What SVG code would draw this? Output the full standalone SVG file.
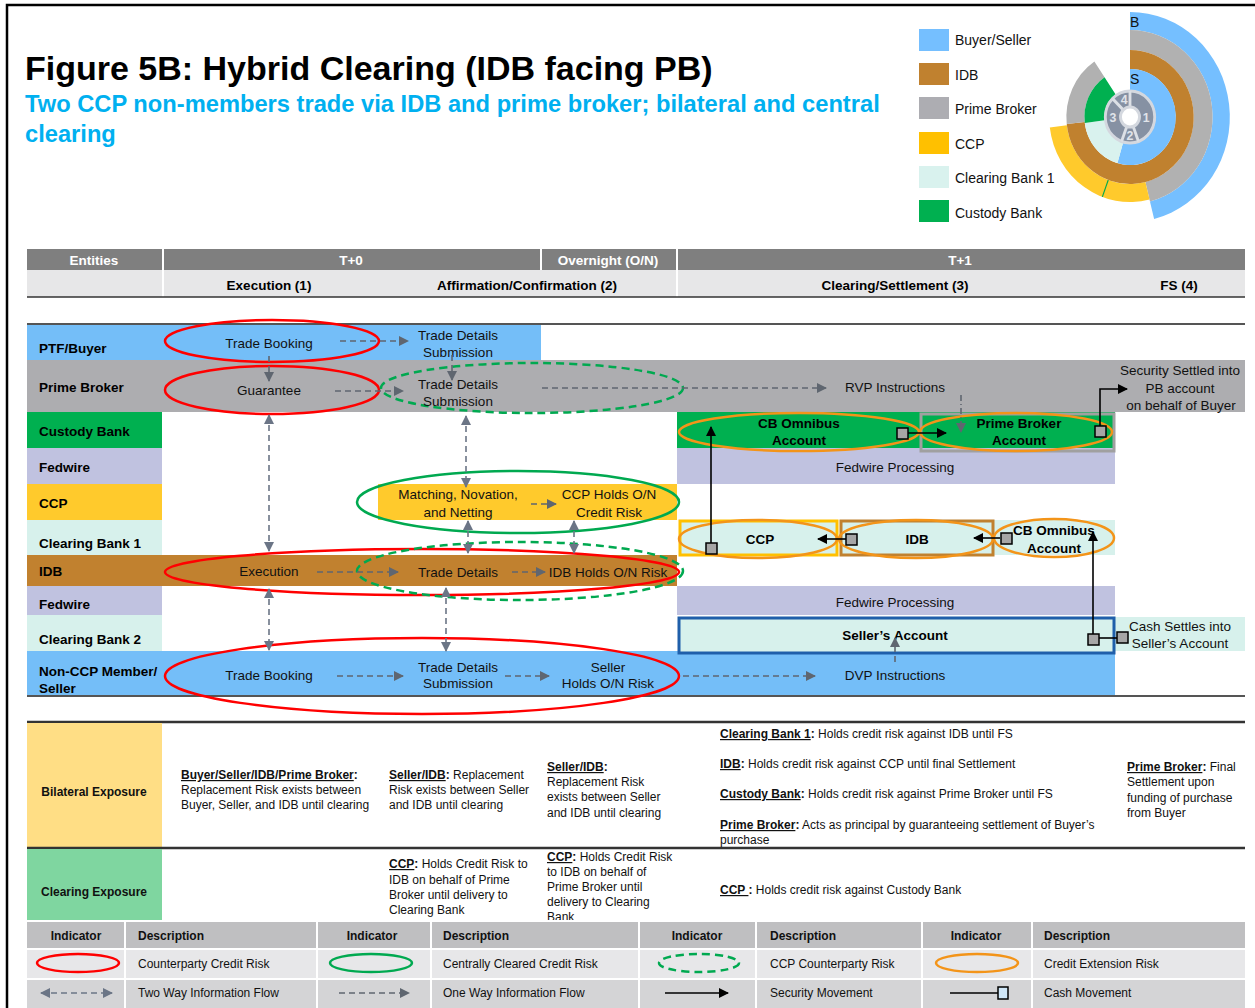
<svg xmlns="http://www.w3.org/2000/svg" width="1255" height="1008" viewBox="0 0 1255 1008">
<defs>
<style>
text{font-family:"Liberation Sans",Arial,sans-serif;fill:#111}
.lbl{font-weight:bold;font-size:13.5px;fill:#000}
.flow{font-size:13.5px;text-anchor:middle}
.fb{font-size:13.5px;text-anchor:middle;font-weight:bold;fill:#000}
.h1{font-weight:bold;font-size:13.5px;fill:#fff;text-anchor:middle}
.h2{font-weight:bold;font-size:13.5px;fill:#000;text-anchor:middle}
.sm{font-size:12px}
.smb{font-size:12px;font-weight:bold}
.u{font-weight:bold;text-decoration:underline}
.lg{font-size:14px}
.d1{stroke:#5F6670;stroke-width:1.6;stroke-dasharray:6,4;fill:none}
.d2{stroke:#6B7586;stroke-width:1.6;stroke-dasharray:6,4;fill:none}
.red{fill:none;stroke:#FF0000;stroke-width:2.5}
.gs{fill:none;stroke:#00A950;stroke-width:2.5}
.gd{fill:none;stroke:#00A950;stroke-width:2.5;stroke-dasharray:8,5}
.or{fill:none;stroke:#F39419;stroke-width:2.5}
.sec{stroke:#000;stroke-width:1.6;fill:none}
.sq{fill:#A6A6A6;stroke:#000;stroke-width:1.5}
</style>
<marker id="ag" viewBox="0 0 10 10" refX="9" refY="5" markerWidth="10" markerHeight="10" markerUnits="userSpaceOnUse" orient="auto-start-reverse"><path d="M0,0 L10,5 L0,10 z" fill="#5F6670"/></marker>
<marker id="as" viewBox="0 0 10 10" refX="9" refY="5" markerWidth="10" markerHeight="10" markerUnits="userSpaceOnUse" orient="auto-start-reverse"><path d="M0,0 L10,5 L0,10 z" fill="#6B7586"/></marker>
<marker id="ab" viewBox="0 0 10 10" refX="9" refY="5" markerWidth="10" markerHeight="10" markerUnits="userSpaceOnUse" orient="auto-start-reverse"><path d="M0,0 L10,5 L0,10 z" fill="#000"/></marker>
</defs>
<rect width="1255" height="1008" fill="#fff"/>
<rect x="7" y="5" width="1265" height="1020" fill="none" stroke="#000" stroke-width="2.5"/>

<g id="title">
<text x="25" y="80" font-size="34" font-weight="bold" style="fill:#000">Figure 5B: Hybrid Clearing (IDB facing PB)</text>
<text x="25" y="112" font-size="23.7" font-weight="bold" style="fill:#00B0F0">Two CCP non-members trade via IDB and prime broker; bilateral and central</text>
<text x="25" y="142" font-size="23.7" font-weight="bold" style="fill:#00B0F0">clearing</text>
</g>

<g id="color-legend">
<rect x="919" y="29" width="30" height="22" fill="#75BFFF"/><text class="lg" x="955" y="45">Buyer/Seller</text>
<rect x="919" y="63" width="30" height="22" fill="#C0812F"/><text class="lg" x="955" y="80">IDB</text>
<rect x="919" y="97" width="30" height="22" fill="#ADADB2"/><text class="lg" x="955" y="114">Prime Broker</text>
<rect x="919" y="132" width="30" height="22" fill="#FFC000"/><text class="lg" x="955" y="149">CCP</text>
<rect x="919" y="166" width="30" height="22" fill="#D9F2EE"/><text class="lg" x="955" y="183">Clearing Bank 1</text>
<rect x="919" y="200" width="30" height="22" fill="#00B050"/><text class="lg" x="955" y="218">Custody Bank</text>
</g>

<g id="ring-chart">
<g transform="translate(1130,117) scale(0.95,1)">
<path d="M0,-105 A105,105 0 0 1 25.4,101.9 L21.0,84.4 A87,87 0 0 0 0,-87 Z" fill="#75BFFF"/>
<path d="M0,-87 A87,87 0 0 1 21.0,84.4 L16.2,65.0 A67,67 0 0 0 0,-67 Z" fill="#B1B1B1"/>
<path d="M20.6,82.5 A85,85 0 0 1 -84.4,10.4 L-66.5,8.2 A67,67 0 0 0 16.2,65.0 Z" fill="#FFCA2C"/>
<line x1="-22.9" y1="63" x2="-29.1" y2="79.9" stroke="#00A950" stroke-width="1.2"/>
<path d="M0,-67 A67,67 0 1 1 -66.6,7.0 L-47.7,5.0 A48,48 0 1 0 0,-48 Z" fill="#C0812F"/>
<path d="M-66.6,7.0 A67,67 0 0 1 -37.5,-55.5 L-26.8,-39.8 A48,48 0 0 0 -47.7,5.0 Z" fill="#B1B1B1"/>
<path d="M0,-48 A48,48 0 1 1 -13.2,46.1 L-7.4,26.0 A27,27 0 1 0 0,-27 Z" fill="#75BFFF"/>
<path d="M-13.2,46.1 A48,48 0 0 1 -47.6,5.9 L-26.8,3.3 A27,27 0 0 0 -7.4,26.0 Z" fill="#D9F2EE"/>
<path d="M-47.6,5.9 A48,48 0 0 1 -26.8,-39.8 L-15.1,-22.4 A27,27 0 0 0 -26.8,3.3 Z" fill="#00B050"/>
<circle r="26" fill="#8691A3" stroke="#D4D8DF" stroke-width="3"/>
<g stroke="#DCE0E6" stroke-width="3">
<line x1="0" y1="-10" x2="0" y2="-26"/>
<line x1="3.4" y1="9.4" x2="8.9" y2="24.4"/>
<line x1="-3.4" y1="9.4" x2="-8.9" y2="24.4"/>
<line x1="-7.1" y1="-7.1" x2="-18.4" y2="-18.4"/>
</g>
<circle r="10" fill="#fff" stroke="#D4D8DF" stroke-width="3"/>
<g font-size="13" font-weight="bold" text-anchor="middle">
<text x="17" y="5" style="fill:#E0E4EA">1</text>
<text x="0" y="23" style="fill:#E0E4EA">2</text>
<text x="-18" y="5" style="fill:#E0E4EA">3</text>
<text x="-6" y="-13" style="fill:#E0E4EA">4</text>
</g>
</g>
<text class="lg" x="1130" y="27">B</text>
<text class="lg" x="1130" y="84">S</text>
</g>

<g id="header">
<rect x="27" y="249" width="1218" height="21" fill="#7F7F7F"/>
<rect x="27" y="270" width="1218" height="27" fill="#E7E7E8"/>
<g stroke="#fff" stroke-width="2">
<line x1="163" y1="249" x2="163" y2="297"/>
<line x1="541" y1="249" x2="541" y2="270"/>
<line x1="677" y1="249" x2="677" y2="297"/>
</g>
<line x1="27" y1="297" x2="1245" y2="297" stroke="#333" stroke-width="1.5"/>
<text class="h1" x="94" y="265">Entities</text>
<text class="h1" x="351" y="265">T+0</text>
<text class="h1" x="608" y="265">Overnight (O/N)</text>
<text class="h1" x="960" y="265">T+1</text>
<text class="h2" x="269" y="290">Execution (1)</text>
<text class="h2" x="527" y="290">Affirmation/Confirmation (2)</text>
<text class="h2" x="895" y="290">Clearing/Settlement (3)</text>
<text class="h2" x="1179" y="290">FS (4)</text>
<line x1="27" y1="324" x2="1245" y2="324" stroke="#555" stroke-width="2"/>
</g>

<g id="lanes">
<rect x="27" y="325" width="514" height="35" fill="#74BEF8"/>
<rect x="27" y="360" width="1218" height="52" fill="#ADADB0"/>
<rect x="27" y="412" width="135" height="36" fill="#00B050"/>
<rect x="27" y="448" width="135" height="36" fill="#C0C2E0"/>
<rect x="27" y="484" width="135" height="36" fill="#FFCA2C"/>
<rect x="27" y="520" width="135" height="35" fill="#D7F1EC"/>
<rect x="27" y="555" width="650" height="31" fill="#C1812F"/>
<rect x="27" y="586" width="135" height="29" fill="#C0C2E0"/>
<rect x="27" y="615" width="135" height="36" fill="#D7F1EC"/>
<rect x="27" y="651" width="1088" height="45" fill="#74BEF8"/>
<rect x="677" y="412" width="438" height="36" fill="#00B050"/>
<rect x="677" y="448" width="438" height="36" fill="#C0C2E0"/>
<rect x="378" y="484" width="299" height="36" fill="#FFCA2C"/>
<rect x="994" y="520" width="121" height="35" fill="#D7F1EC"/>
<rect x="677" y="586" width="438" height="29" fill="#C0C2E0"/>
<rect x="1115" y="617" width="130" height="34" fill="#D7F1EC"/>
<line x1="27" y1="696" x2="1245" y2="696" stroke="#555" stroke-width="2"/>
<text class="lbl" x="39" y="353">PTF/Buyer</text>
<text class="lbl" x="39" y="392">Prime Broker</text>
<text class="lbl" x="39" y="436">Custody Bank</text>
<text class="lbl" x="39" y="472">Fedwire</text>
<text class="lbl" x="39" y="508">CCP</text>
<text class="lbl" x="39" y="548">Clearing Bank 1</text>
<text class="lbl" x="39" y="576">IDB</text>
<text class="lbl" x="39" y="609">Fedwire</text>
<text class="lbl" x="39" y="644">Clearing Bank 2</text>
<text class="lbl" x="39" y="676">Non-CCP Member/</text>
<text class="lbl" x="39" y="693">Seller</text>
</g>

<g id="node-buyer-trade-booking">
<ellipse class="red" cx="272" cy="341" rx="107" ry="21"/>
<text class="flow" x="269" y="348">Trade Booking</text>
</g>
<g id="node-buyer-trade-details">
<text class="flow" x="458" y="340">Trade Details</text>
<text class="flow" x="458" y="357">Submission</text>
</g>
<g id="node-pb-guarantee">
<ellipse class="red" cx="272" cy="390" rx="107" ry="24"/>
<text class="flow" x="269" y="395">Guarantee</text>
</g>
<g id="node-pb-trade-details">
<ellipse class="gd" cx="532" cy="388" rx="151" ry="25"/>
<text class="flow" x="458" y="389">Trade Details</text>
<text class="flow" x="458" y="406">Submission</text>
</g>
<g id="node-rvp">
<text class="flow" x="895" y="392">RVP Instructions</text>
</g>
<g id="node-security-settled">
<text class="flow" x="1180" y="375">Security Settled into</text>
<text class="flow" x="1180" y="393">PB account</text>
<text class="flow" x="1181" y="410">on behalf of Buyer</text>
</g>
<g id="node-cb-omnibus-1">
<ellipse class="or" cx="799" cy="432" rx="120" ry="19"/>
<text class="fb" x="799" y="428">CB Omnibus</text>
<text class="fb" x="799" y="445">Account</text>
</g>
<g id="node-pb-account">
<rect x="921" y="414" width="193" height="37" fill="none" stroke="#A0A0A0" stroke-width="3"/>
<ellipse class="or" cx="1016" cy="432" rx="96" ry="19"/>
<text class="fb" x="1019" y="428">Prime Broker</text>
<text class="fb" x="1019" y="445">Account</text>
</g>
<g id="node-fedwire-1">
<text class="flow" x="895" y="472">Fedwire Processing</text>
</g>
<g id="node-ccp-matching">
<ellipse class="gs" cx="518" cy="502" rx="161" ry="31"/>
<text class="flow" x="458" y="499">Matching, Novation,</text>
<text class="flow" x="458" y="517">and Netting</text>
<text class="flow" x="609" y="499">CCP Holds O/N</text>
<text class="flow" x="609" y="517">Credit Risk</text>
</g>
<g id="node-ccp-box">
<rect x="680" y="521" width="157" height="34" fill="#D7F1EC" stroke="#FFC000" stroke-width="3"/>
<ellipse class="or" cx="758" cy="539" rx="79" ry="19"/>
<text class="fb" x="760" y="544">CCP</text>
</g>
<g id="node-idb-box">
<rect x="841" y="521" width="152" height="34" fill="#D7F1EC" stroke="#C0812F" stroke-width="3"/>
<ellipse class="or" cx="916" cy="539" rx="77" ry="19"/>
<text class="fb" x="917" y="544">IDB</text>
</g>
<g id="node-cb-omnibus-2">
<ellipse class="or" cx="1054" cy="538" rx="60" ry="19"/>
<text class="fb" x="1054" y="535">CB Omnibus</text>
<text class="fb" x="1054" y="553">Account</text>
</g>
<g id="node-idb-execution">
<ellipse class="red" cx="422" cy="572" rx="257" ry="23"/>
<ellipse class="gd" cx="520" cy="571" rx="163" ry="29"/>
<text class="flow" x="269" y="576">Execution</text>
<text class="flow" x="458" y="577">Trade Details</text>
<text class="flow" x="608" y="577">IDB Holds O/N Risk</text>
</g>
<g id="node-fedwire-2">
<text class="flow" x="895" y="607">Fedwire Processing</text>
</g>
<g id="node-sellers-account">
<rect x="679" y="618" width="435" height="35" fill="#D7F1EC" stroke="#1F5FAA" stroke-width="3"/>
<text class="fb" x="895" y="640">Seller’s Account</text>
</g>
<g id="node-cash-settles">
<text class="flow" x="1180" y="631">Cash Settles into</text>
<text class="flow" x="1180" y="648">Seller’s Account</text>
</g>
<g id="node-seller">
<ellipse class="red" cx="422" cy="676" rx="257" ry="38"/>
<text class="flow" x="269" y="680">Trade Booking</text>
<text class="flow" x="458" y="672">Trade Details</text>
<text class="flow" x="458" y="688">Submission</text>
<text class="flow" x="608" y="672">Seller</text>
<text class="flow" x="608" y="688">Holds O/N Risk</text>
<text class="flow" x="895" y="680">DVP Instructions</text>
</g>

<g id="connectors">
<g marker-end="url(#ag)" class="d1">
<path d="M340,341 H408"/>
<path d="M335,391 H403"/>
<path d="M542,388 H826"/>
<path d="M531,504 H556"/>
<path d="M317,572 H398"/>
<path d="M512,572 H545"/>
<path d="M337,676 H403"/>
<path d="M505,676 H549"/>
<path d="M683,676 H815"/>
<path d="M269,356 V381"/>
<path d="M452,355 V380"/>
<path d="M961,395 V432" style="stroke-dasharray:6,3,1,3"/>
<path d="M895,662 V638"/>
</g>
<g marker-start="url(#as)" marker-end="url(#as)" class="d2">
<path d="M269,415 V551"/>
<path d="M269,589 V650"/>
<path d="M466,416 V487"/>
<path d="M468,521 V553"/>
<path d="M574,521 V553"/>
<path d="M446,588 V651"/>
</g>
<g class="sec" marker-end="url(#ab)">
<path d="M907,433 H946"/>
<path d="M1100,427 V389 H1127"/>
<path d="M711,543 V427"/>
<path d="M846,539 H818"/>
<path d="M1000,538 H974"/>
<path d="M1093,634 V532"/>
</g>
<path class="sec" d="M1099,638 H1117"/>
<rect class="sq" x="897" y="428" width="11" height="11"/>
<rect class="sq" x="1095" y="426" width="11" height="11"/>
<rect class="sq" x="706" y="543" width="11" height="11"/>
<rect class="sq" x="846" y="534" width="11" height="11"/>
<rect class="sq" x="1001" y="533" width="11" height="11"/>
<rect class="sq" x="1088" y="634" width="11" height="11"/>
<rect class="sq" x="1117" y="632" width="11" height="11"/>
</g>

<g id="exposure-table">
<line x1="27" y1="722" x2="1245" y2="722" stroke="#333" stroke-width="2.5"/>
<rect x="27" y="723" width="135" height="125" fill="#FFDE85"/>
<line x1="27" y1="848" x2="1245" y2="848" stroke="#333" stroke-width="2.5"/>
<rect x="27" y="849" width="135" height="72" fill="#7FD6A0"/>
<text class="smb" x="94" y="796" text-anchor="middle">Bilateral Exposure</text>
<text class="smb" x="94" y="896" text-anchor="middle">Clearing Exposure</text>
<g class="sm">
<text x="181" y="779"><tspan class="u">Buyer/Seller/IDB/Prime Broker</tspan><tspan font-weight="bold">:</tspan></text>
<text x="181" y="794">Replacement Risk exists between</text>
<text x="181" y="809">Buyer, Seller, and IDB until clearing</text>
<text x="389" y="779"><tspan class="u">Seller/IDB</tspan><tspan font-weight="bold">:</tspan> Replacement</text>
<text x="389" y="794">Risk exists between Seller</text>
<text x="389" y="809">and IDB until clearing</text>
<text x="547" y="771"><tspan class="u">Seller/IDB</tspan><tspan font-weight="bold">:</tspan></text>
<text x="547" y="786">Replacement Risk</text>
<text x="547" y="801">exists between Seller</text>
<text x="547" y="817">and IDB until clearing</text>
<text x="720" y="738"><tspan class="u">Clearing Bank 1</tspan><tspan font-weight="bold">:</tspan> Holds credit risk against IDB until FS</text>
<text x="720" y="768"><tspan class="u">IDB</tspan><tspan font-weight="bold">:</tspan> Holds credit risk against CCP until final Settlement</text>
<text x="720" y="798"><tspan class="u">Custody Bank</tspan><tspan font-weight="bold">:</tspan> Holds credit risk against Prime Broker until FS</text>
<text x="720" y="829"><tspan class="u">Prime Broker</tspan><tspan font-weight="bold">:</tspan> Acts as principal by guaranteeing settlement of Buyer’s</text>
<text x="720" y="844">purchase</text>
<text x="1127" y="771"><tspan class="u">Prime Broker</tspan><tspan font-weight="bold">:</tspan> Final</text>
<text x="1127" y="786">Settlement upon</text>
<text x="1127" y="802">funding of purchase</text>
<text x="1127" y="817">from Buyer</text>
<text x="389" y="868"><tspan class="u">CCP</tspan><tspan font-weight="bold">:</tspan> Holds Credit Risk to</text>
<text x="389" y="884">IDB on behalf of Prime</text>
<text x="389" y="899">Broker until delivery to</text>
<text x="389" y="914">Clearing Bank</text>
<text x="547" y="861"><tspan class="u">CCP</tspan><tspan font-weight="bold">:</tspan> Holds Credit Risk</text>
<text x="547" y="876">to IDB on behalf of</text>
<text x="547" y="891">Prime Broker until</text>
<text x="547" y="906">delivery to Clearing</text>
<text x="547" y="921">Bank</text>
<text x="720" y="894"><tspan class="u">CCP </tspan><tspan font-weight="bold">:</tspan> Holds credit risk against Custody Bank</text>
</g>
</g>

<g id="indicator-legend">
<rect x="27" y="920" width="1218" height="88" fill="#fff"/>
<rect x="27" y="922" width="1218" height="26" fill="#BFBFC1"/>
<rect x="27" y="950" width="1218" height="28" fill="#E7E7E9"/>
<rect x="27" y="980" width="1218" height="28" fill="#D4D4D6"/>
<g stroke="#fff" stroke-width="2">
<line x1="125" y1="922" x2="125" y2="1008"/>
<line x1="317" y1="922" x2="317" y2="1008"/>
<line x1="431" y1="922" x2="431" y2="1008"/>
<line x1="639" y1="922" x2="639" y2="1008"/>
<line x1="756" y1="922" x2="756" y2="1008"/>
<line x1="922" y1="922" x2="922" y2="1008"/>
<line x1="1032" y1="922" x2="1032" y2="1008"/>
</g>
<g class="smb">
<text x="76" y="940" text-anchor="middle">Indicator</text>
<text x="138" y="940">Description</text>
<text x="372" y="940" text-anchor="middle">Indicator</text>
<text x="443" y="940">Description</text>
<text x="697" y="940" text-anchor="middle">Indicator</text>
<text x="770" y="940">Description</text>
<text x="976" y="940" text-anchor="middle">Indicator</text>
<text x="1044" y="940">Description</text>
</g>
<ellipse class="red" cx="78" cy="963" rx="41" ry="9"/>
<ellipse class="gs" cx="371" cy="963" rx="41" ry="9"/>
<ellipse class="gd" cx="699" cy="963" rx="40" ry="9"/>
<ellipse class="or" cx="977" cy="963" rx="41" ry="9"/>
<path class="d2" d="M41,993 H112" marker-start="url(#as)" marker-end="url(#as)"/>
<path class="d1" d="M339,993 H409" marker-end="url(#ag)"/>
<path class="sec" d="M665,993 H728" marker-end="url(#ab)"/>
<path class="sec" d="M950,993 H998"/>
<rect x="998" y="987" width="10" height="12" fill="#CFE6F7" stroke="#000" stroke-width="1.5"/>
<g class="sm">
<text x="138" y="968">Counterparty Credit Risk</text>
<text x="443" y="968">Centrally Cleared Credit Risk</text>
<text x="770" y="968">CCP Counterparty Risk</text>
<text x="1044" y="968">Credit Extension Risk</text>
<text x="138" y="997">Two Way Information Flow</text>
<text x="443" y="997">One Way Information Flow</text>
<text x="770" y="997">Security Movement</text>
<text x="1044" y="997">Cash Movement</text>
</g>
</g>
</svg>
